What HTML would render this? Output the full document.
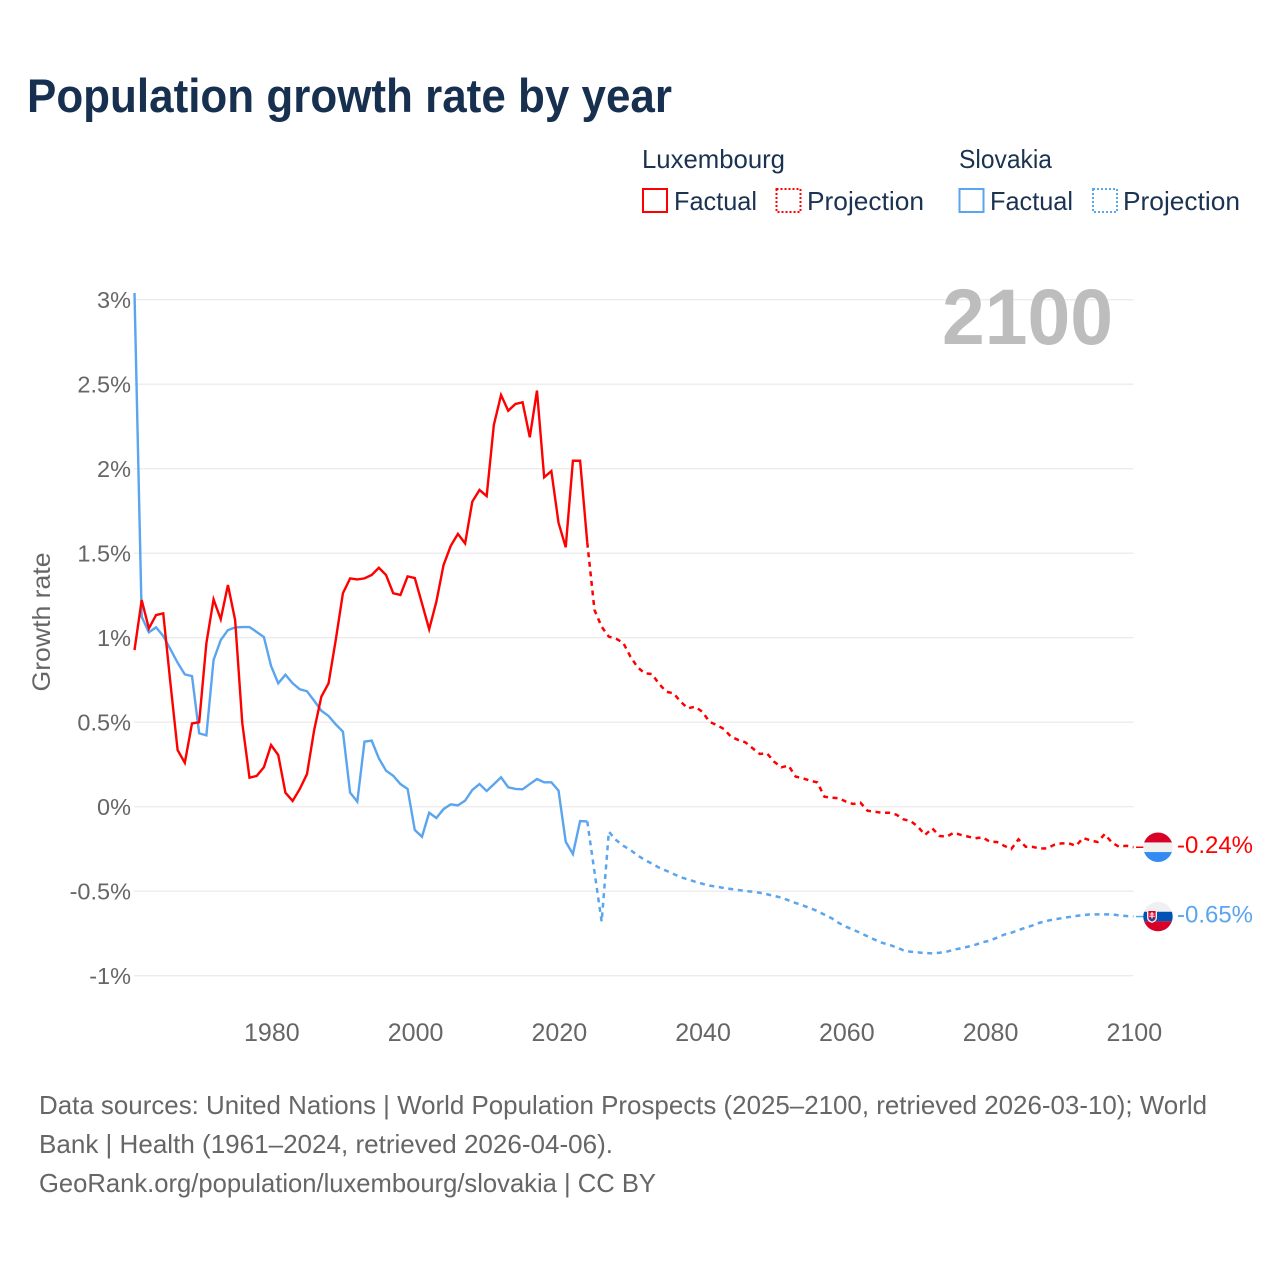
<!DOCTYPE html>
<html lang="en">
<head>
<meta charset="utf-8">
<title>Population growth rate by year</title>
<style>
html,body{margin:0;padding:0;background:#fff;width:1280px;height:1280px;overflow:hidden}
svg{display:block}
text{font-family:"Liberation Sans",sans-serif}
</style>
</head>
<body>
<svg id="chart" xmlns="http://www.w3.org/2000/svg" width="1280" height="1280" viewBox="0 0 1280 1280">
  <rect width="1280" height="1280" fill="#fff"/>
  <text x="27" y="112" font-size="47" font-weight="700" fill="#17304f" textLength="645" lengthAdjust="spacingAndGlyphs">Population growth rate by year</text>

  <g font-size="26" fill="#1b3250">
    <text x="642" y="168" textLength="143" lengthAdjust="spacingAndGlyphs">Luxembourg</text>
    <text x="959" y="168" textLength="93" lengthAdjust="spacingAndGlyphs">Slovakia</text>
    <rect x="643" y="189" width="24" height="23" fill="none" stroke="#ff0000" stroke-width="2"/>
    <text x="674" y="210" textLength="83" lengthAdjust="spacingAndGlyphs">Factual</text>
    <rect x="776.5" y="189" width="24" height="23" fill="none" stroke="#ff0000" stroke-width="2" stroke-dasharray="2 2"/>
    <text x="807" y="210" textLength="117" lengthAdjust="spacingAndGlyphs">Projection</text>
    <rect x="959.5" y="189" width="24" height="23" fill="none" stroke="#5aa5ee" stroke-width="2"/>
    <text x="990" y="210" textLength="83" lengthAdjust="spacingAndGlyphs">Factual</text>
    <rect x="1093" y="189" width="24" height="23" fill="none" stroke="#5aa5ee" stroke-width="2" stroke-dasharray="2 2"/>
    <text x="1123" y="210" textLength="117" lengthAdjust="spacingAndGlyphs">Projection</text>
  </g>

  <g id="grid"></g>
  <g id="y-ticks"></g>
  <g id="x-ticks"></g>
  <text transform="translate(50 622) rotate(-90)" text-anchor="middle" font-size="25" fill="#666" textLength="139" lengthAdjust="spacingAndGlyphs">Growth rate</text>
  <text x="942" y="344" font-size="79" font-weight="700" fill="#bdbdbd" textLength="171" lengthAdjust="spacingAndGlyphs">2100</text>
  <g id="series"></g>

  <g id="end-labels"></g>

  <g font-size="26" fill="#666">
    <text x="39" y="1114" textLength="1168" lengthAdjust="spacingAndGlyphs">Data sources: United Nations | World Population Prospects (2025–2100, retrieved 2026-03-10); World</text>
    <text x="39" y="1153" textLength="574" lengthAdjust="spacingAndGlyphs">Bank | Health (1961–2024, retrieved 2026-04-06).</text>
    <text x="39" y="1192" textLength="617" lengthAdjust="spacingAndGlyphs">GeoRank.org/population/luxembourg/slovakia | CC BY</text>
  </g>
</svg>
<script>
const xTickYears = [1980, 2000, 2020, 2040, 2060, 2080, 2100];
const yTickValues = [3, 2.5, 2, 1.5, 1, 0.5, 0, -0.5, -1];
const yTickLabels = ['3%', '2.5%', '2%', '1.5%', '1%', '0.5%', '0%', '-0.5%', '-1%'];
const factualStartYear = 1961;
const projectionStartYear = 2024;

const luxembourgFactual = [0.927,1.223,1.055,1.134,1.144,0.73,0.335,0.26,0.493,0.5,0.967,1.227,1.109,1.312,1.105,0.493,0.172,0.182,0.233,0.365,0.306,0.083,0.034,0.105,0.193,0.454,0.651,0.73,0.986,1.263,1.351,1.345,1.351,1.371,1.414,1.371,1.263,1.253,1.363,1.353,1.203,1.05,1.213,1.43,1.543,1.614,1.558,1.805,1.874,1.838,2.259,2.436,2.343,2.383,2.393,2.186,2.462,1.949,1.986,1.68,1.535,2.047,2.047,1.562];
const luxembourgProjection = [1.562,1.164,1.065,1.006,0.994,0.97,0.888,0.825,0.789,0.785,0.726,0.68,0.671,0.621,0.582,0.592,0.562,0.503,0.483,0.46,0.414,0.395,0.381,0.346,0.312,0.316,0.266,0.233,0.243,0.178,0.168,0.154,0.144,0.059,0.053,0.05,0.03,0.016,0.024,-0.024,-0.03,-0.036,-0.036,-0.047,-0.075,-0.085,-0.118,-0.167,-0.128,-0.173,-0.177,-0.154,-0.167,-0.177,-0.187,-0.181,-0.207,-0.209,-0.231,-0.25,-0.193,-0.237,-0.238,-0.248,-0.246,-0.225,-0.217,-0.217,-0.231,-0.185,-0.199,-0.209,-0.162,-0.213,-0.237,-0.231,-0.24];
const slovakiaFactual = [3.04,1.124,1.032,1.061,1.01,0.931,0.852,0.783,0.773,0.434,0.422,0.868,0.986,1.045,1.061,1.063,1.063,1.034,1.004,0.833,0.73,0.781,0.73,0.695,0.683,0.627,0.568,0.537,0.487,0.444,0.083,0.03,0.385,0.391,0.286,0.213,0.183,0.134,0.105,-0.138,-0.178,-0.036,-0.067,-0.014,0.014,0.008,0.036,0.099,0.134,0.093,0.133,0.174,0.115,0.105,0.103,0.134,0.164,0.144,0.144,0.095,-0.207,-0.28,-0.085,-0.087];
const slovakiaProjection = [-0.087,-0.385,-0.68,-0.148,-0.197,-0.231,-0.256,-0.288,-0.315,-0.337,-0.361,-0.379,-0.398,-0.418,-0.43,-0.444,-0.456,-0.467,-0.473,-0.481,-0.487,-0.493,-0.499,-0.503,-0.509,-0.518,-0.528,-0.538,-0.554,-0.57,-0.584,-0.6,-0.617,-0.639,-0.66,-0.688,-0.71,-0.728,-0.747,-0.767,-0.787,-0.805,-0.817,-0.832,-0.85,-0.858,-0.862,-0.866,-0.868,-0.864,-0.858,-0.846,-0.838,-0.828,-0.817,-0.802,-0.793,-0.775,-0.757,-0.746,-0.73,-0.716,-0.702,-0.686,-0.675,-0.666,-0.66,-0.653,-0.647,-0.641,-0.637,-0.637,-0.637,-0.637,-0.643,-0.647,-0.65];

const NS = 'http://www.w3.org/2000/svg';
const RED = '#ff0000';
const BLUE = '#5aa5ee';
function xScale(year) { return 134.5 + (year - 1961) * (999 / 139); }
function yScale(value) { return 806.7 - value * 169; }
function make(tag, parent) {
  const el = document.createElementNS(NS, tag);
  parent.appendChild(el);
  return el;
}

const gridGroup = document.getElementById('grid');
const yTickGroup = document.getElementById('y-ticks');
yTickValues.forEach(function (value, i) {
  const line = make('line', gridGroup);
  
  
  line.setAttribute('x1', 134);
  line.setAttribute('x2', 1133.5);
  line.setAttribute('y1', yScale(value));
  line.setAttribute('y2', yScale(value));
  line.setAttribute('stroke', '#ececec');
  line.setAttribute('stroke-width', '1.4');
  const label = make('text', yTickGroup);
  
  
  label.setAttribute('x', 131);
  label.setAttribute('y', yScale(value) + 8.5);
  label.setAttribute('text-anchor', 'end');
  label.setAttribute('font-size', '23.5');
  label.setAttribute('fill', '#666');
  label.textContent = yTickLabels[i];
});

const xTickGroup = document.getElementById('x-ticks');
xTickYears.forEach(function (year) {
  const label = make('text', xTickGroup);
  
  
  label.setAttribute('x', xScale(year) + 0.8);
  label.setAttribute('y', 1041);
  label.setAttribute('text-anchor', 'middle');
  label.setAttribute('font-size', '25');
  label.setAttribute('fill', '#666');
  label.textContent = String(year);
});

function seriesPoints(values, startYear) {
  return values.map(function (value, i) {
    return xScale(startYear + i).toFixed(2) + ',' + yScale(value).toFixed(2);
  }).join(' ');
}
const seriesGroup = document.getElementById('series');

const lineSkFactual = make('polyline', seriesGroup);


lineSkFactual.setAttribute('points', seriesPoints(slovakiaFactual, factualStartYear));
lineSkFactual.setAttribute('fill', 'none');
lineSkFactual.setAttribute('stroke', BLUE);
lineSkFactual.setAttribute('stroke-width', '2.4');

const lineSkProjection = make('polyline', seriesGroup);


lineSkProjection.setAttribute('points', seriesPoints(slovakiaProjection, projectionStartYear));
lineSkProjection.setAttribute('fill', 'none');
lineSkProjection.setAttribute('stroke', BLUE);
lineSkProjection.setAttribute('stroke-width', '2.5');
lineSkProjection.setAttribute('stroke-dasharray', '5 4.6');

const lineLuxFactual = make('polyline', seriesGroup);


lineLuxFactual.setAttribute('points', seriesPoints(luxembourgFactual, factualStartYear));
lineLuxFactual.setAttribute('fill', 'none');
lineLuxFactual.setAttribute('stroke', RED);
lineLuxFactual.setAttribute('stroke-width', '2.4');

const lineLuxProjection = make('polyline', seriesGroup);


lineLuxProjection.setAttribute('points', seriesPoints(luxembourgProjection, projectionStartYear));
lineLuxProjection.setAttribute('fill', 'none');
lineLuxProjection.setAttribute('stroke', RED);
lineLuxProjection.setAttribute('stroke-width', '2.5');
lineLuxProjection.setAttribute('stroke-dasharray', '5 4.6');

const endGroup = document.getElementById('end-labels');
function stripe(parent, cy, dy, h, color, clipId) {
  const r = make('rect', parent);
  r.setAttribute('x', 1143);
  r.setAttribute('y', cy + dy);
  r.setAttribute('width', 30);
  r.setAttribute('height', h);
  r.setAttribute('fill', color);
  r.setAttribute('clip-path', 'url(#' + clipId + ')');
  return r;
}
function clipCircle(id, cy) {
  const clip = make('clipPath', endGroup);
  clip.setAttribute('id', id);
  const c = make('circle', clip);
  c.setAttribute('cx', 1158);
  c.setAttribute('cy', cy);
  c.setAttribute('r', 14.7);
}

const luxEndValue = luxembourgProjection[luxembourgProjection.length - 1];
const skEndValue = slovakiaProjection[slovakiaProjection.length - 1];
const luxEndY = yScale(luxEndValue);
const skEndY = yScale(skEndValue);

const connectorLux = make('line', endGroup);


connectorLux.setAttribute('x1', 1136);
connectorLux.setAttribute('x2', 1144);
connectorLux.setAttribute('y1', luxEndY);
connectorLux.setAttribute('y2', luxEndY);
connectorLux.setAttribute('stroke', RED);
connectorLux.setAttribute('stroke-width', '1.5');

const connectorSk = make('line', endGroup);


connectorSk.setAttribute('x1', 1136);
connectorSk.setAttribute('x2', 1144);
connectorSk.setAttribute('y1', skEndY);
connectorSk.setAttribute('y2', skEndY);
connectorSk.setAttribute('stroke', BLUE);
connectorSk.setAttribute('stroke-width', '1.5');

clipCircle('clip-lux', luxEndY);
const flagLux = make('g', endGroup);


stripe(flagLux, luxEndY, -15, 10.2, '#d80027', 'clip-lux');
stripe(flagLux, luxEndY, -4.8, 9.6, '#f0f0f0', 'clip-lux');
stripe(flagLux, luxEndY, 4.8, 10.2, '#338af3', 'clip-lux');

clipCircle('clip-sk', skEndY);
const flagSk = make('g', endGroup);


stripe(flagSk, skEndY, -15, 10.2, '#f0f0f0', 'clip-sk');
stripe(flagSk, skEndY, -4.8, 9.6, '#0052b4', 'clip-sk');
stripe(flagSk, skEndY, 4.8, 10.2, '#d80027', 'clip-sk');
const shield = make('path', flagSk);
shield.setAttribute('d', 'M1147 ' + (skEndY - 6.8) + 'h10v8q0 3.5-5 5.3q-5-1.8-5-5.3z');
shield.setAttribute('fill', '#f0f0f0');
const shieldInner = make('path', flagSk);
shieldInner.setAttribute('d', 'M1148.4 ' + (skEndY - 5.5) + 'h7.2v6.6q0 2.6-3.6 3.9q-3.6-1.3-3.6-3.9z');
shieldInner.setAttribute('fill', '#d80027');
const shieldCross = make('path', flagSk);
shieldCross.setAttribute('d', 'M1151.4 ' + (skEndY - 4.6) + 'h1.2v1.6h1.8v1h-1.8v1.2h2.2v1h-2.2v2h-1.2v-2h-2.2v-1h2.2v-1.2h-1.8v-1h1.8z');
shieldCross.setAttribute('fill', '#f0f0f0');
const shieldBase = make('path', flagSk);
shieldBase.setAttribute('d', 'M1149.2 ' + (skEndY + 2.6) + 'q1.4-1.6 2.8-0.4q1.4-1.2 2.8 0.4q-0.8 1.4-2.8 2.2q-2-0.8-2.8-2.2z');
shieldBase.setAttribute('fill', '#0052b4');

const labelLux = make('text', endGroup);


labelLux.setAttribute('x', 1177);
labelLux.setAttribute('y', luxEndY + 5.5);
labelLux.setAttribute('font-size', '24');
labelLux.setAttribute('fill', RED);
labelLux.setAttribute('textLength', '76');
labelLux.setAttribute('lengthAdjust', 'spacingAndGlyphs');
labelLux.textContent = luxEndValue.toFixed(2) + '%';

const labelSk = make('text', endGroup);


labelSk.setAttribute('x', 1177);
labelSk.setAttribute('y', skEndY + 6);
labelSk.setAttribute('font-size', '24');
labelSk.setAttribute('fill', BLUE);
labelSk.setAttribute('textLength', '76');
labelSk.setAttribute('lengthAdjust', 'spacingAndGlyphs');
labelSk.textContent = skEndValue.toFixed(2) + '%';
</script>
</body>
</html>
